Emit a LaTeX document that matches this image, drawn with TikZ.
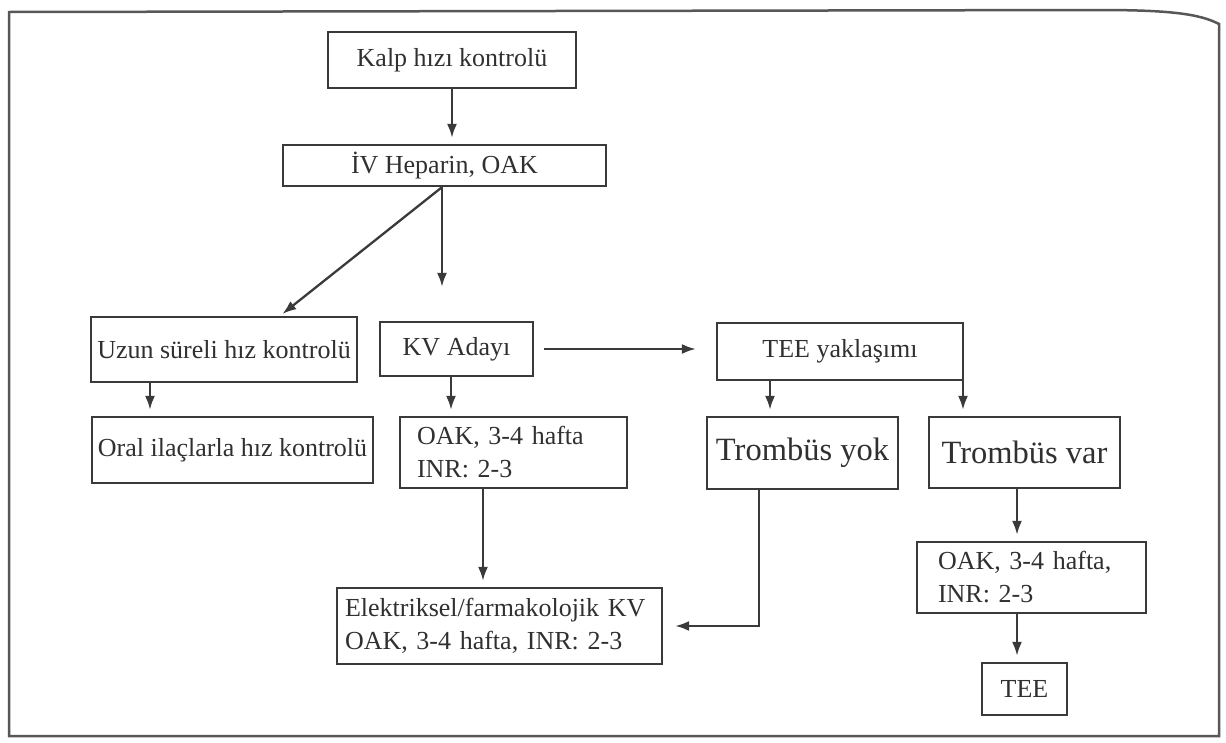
\documentclass[tikz,border=0pt]{standalone}
\usepackage{fontspec}
\setmainfont{Liberation Serif}
\usetikzlibrary{arrows.meta}

\definecolor{cizgi}{HTML}{3A3A3A}
\definecolor{yazi}{HTML}{303030}

\tikzset{
  kutu/.style={draw=cizgi,line width=2.3pt,rectangle,inner sep=3pt,
    text=yazi,font=\fontsize{26}{33}\selectfont},
  sol/.style={align=left},
  iri/.style={font=\fontsize{32.5}{38}\selectfont},
  ok/.style={draw=cizgi,line width=2.3pt,-{Latex[length=14pt,width=10pt]}}
}

\begin{document}
\begin{tikzpicture}[x=1pt,y=-1pt]
\useasboundingbox (0,0) rectangle (1226,742);

% cerceve
\draw[cizgi!85,line width=2.5pt] (9,12) -- (1100,10)
  .. controls (1170,10) and (1200,14) .. (1219,24) -- (1219,736) -- (9,736) -- cycle;

\node[kutu,minimum width=248pt,minimum height=56pt] (kalp) at (452,60) {Kalp hızı kontrolü};
\node[kutu,minimum width=323pt,minimum height=41pt] (heparin) at (444.5,165.5) {İV Heparin, OAK};

\node[kutu,minimum width=266pt,minimum height=65pt] (uzun) at (224,349.5) {Uzun süreli hız kontrolü};
\node[kutu,minimum width=281pt,minimum height=66pt] (oral) at (232.5,450) {Oral ilaçlarla hız kontrolü};
\node[kutu,minimum width=153pt,minimum height=54pt] (aday) at (456.5,349) {KV Adayı};
\node[kutu,sol,text width=193pt,inner xsep=17pt,minimum height=71pt] (oak1) at (513.5,452.5)
  {OAK, 3-4 hafta\\INR: 2-3};
\node[kutu,minimum width=246pt,minimum height=57pt] (tee) at (840,351.5) {TEE yaklaşımı};
\node[kutu,iri,minimum width=191pt,minimum height=72pt] (yok) at (802.5,453) {Trombüs yok};
\node[kutu,iri,minimum width=191pt,minimum height=71pt] (var) at (1024.5,452.5) {Trombüs var};
\node[kutu,sol,text width=309pt,inner xsep=8pt,minimum height=76pt] (elek) at (499.5,626)
  {Elektriksel/farmakolojik KV\\OAK, 3-4 hafta, INR: 2-3};
\node[kutu,sol,text width=187pt,inner xsep=21pt,minimum height=71pt] (oak2) at (1031.5,577.5)
  {OAK, 3-4 hafta,\\INR: 2-3};
\node[kutu,minimum width=85pt,minimum height=52pt] (teebox) at (1024.5,689) {TEE};

% dik oklar
\foreach \a/\b/\x in {kalp/heparin/452,uzun/oral/150,aday/oak1/451,oak1/elek/483,
                      tee/yok/770,tee/var/963,var/oak2/1017,oak2/teebox/1017}
 {\coordinate (t) at (\x,0);
  \draw[ok,shorten >=6pt] (\a.south -| t) -- (\b.north -| t);
 }

\coordinate (hx) at (442,0);
\coordinate (ux) at (280,0);
\coordinate (yx) at (759,0);
\draw[ok,shorten >=3pt] (heparin.south -| hx) -- (uzun.north -| ux);
\draw[ok,shorten >=34pt] (heparin.south -| hx) -- (aday.north -| hx);
\draw[ok,shorten <=10pt,shorten >=20pt] (aday.east) -- (aday.east -| tee.west);
\draw[ok,shorten >=12pt] (yok.south -| yx) |- (elek.east);
% \draw[ok] (var.south) -- (oak2.north);

\end{tikzpicture}
\end{document}
